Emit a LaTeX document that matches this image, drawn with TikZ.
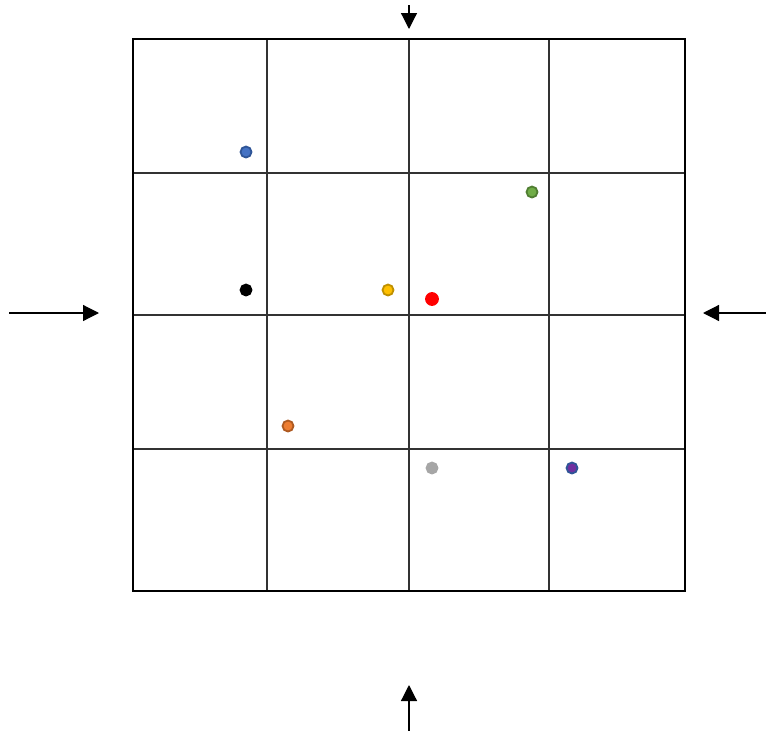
\documentclass[tikz,border=0pt]{standalone}
\usetikzlibrary{arrows.meta}
\definecolor{cblue}{HTML}{4472C4}\definecolor{cbluedk}{HTML}{2F5597}
\definecolor{cyel}{HTML}{FFC000}\definecolor{cyeldk}{HTML}{BF9000}
\definecolor{cgrn}{HTML}{70AD47}\definecolor{cgrndk}{HTML}{507E32}
\definecolor{corg}{HTML}{ED7D31}\definecolor{corgdk}{HTML}{AE5A21}
\definecolor{cgray}{HTML}{A6A6A6}\definecolor{cpur}{HTML}{7030A0}
\tikzset{
  dot/.style={circle,inner sep=0pt,minimum size=11pt,line width=1.8pt},
  inarrow/.style={line width=1.2pt,-{Triangle[length=16pt,width=16pt]}},
  gridline/.style={line width=1.3pt,draw=black!80},
}
\begin{document}
\begin{tikzpicture}[x=1pt,y=-1pt]
\useasboundingbox (0,0) rectangle (766,731);
\foreach \x in {267,409,549} \draw[gridline] (\x,39) -- (\x,591);
\foreach \y in {173,315,449} \draw[gridline] (133,\y) -- (685,\y);
\draw[line width=2.2pt] (133,39) rectangle (685,591);
\coordinate (t0) at (409,5); \coordinate (t1) at (409,29);
\coordinate (l0) at (9,313); \coordinate (l1) at (99,313);
\coordinate (r0) at (766,313); \coordinate (r1) at (703,313);
\coordinate (b0) at (409,731); \coordinate (b1) at (409,685);
\draw[inarrow] (t0) -- (t1);
\draw[inarrow] (l0) -- (l1);
\draw[inarrow] (r0) -- (r1);
\draw[inarrow] (b0) -- (b1);
\node[dot,fill=cblue,draw=cbluedk] (d1) at (246,152) {};
\node[dot,fill=black,draw=black] (d2) at (246,290) {};
\node[dot,fill=cyel,draw=cyeldk] (d3) at (388,290) {};
\node[dot,fill=red,draw=red,minimum size=12pt] (d4) at (432,299) {};
\node[dot,fill=cgrn,draw=cgrndk] (d5) at (532,192) {};
\node[dot,fill=corg,draw=corgdk] (d6) at (288,426) {};
\node[dot,fill=cgray,draw=cgray] (d7) at (432,468) {};
\node[dot,fill=cpur,draw=cbluedk] (d8) at (572,468) {};
\end{tikzpicture}
\end{document}
